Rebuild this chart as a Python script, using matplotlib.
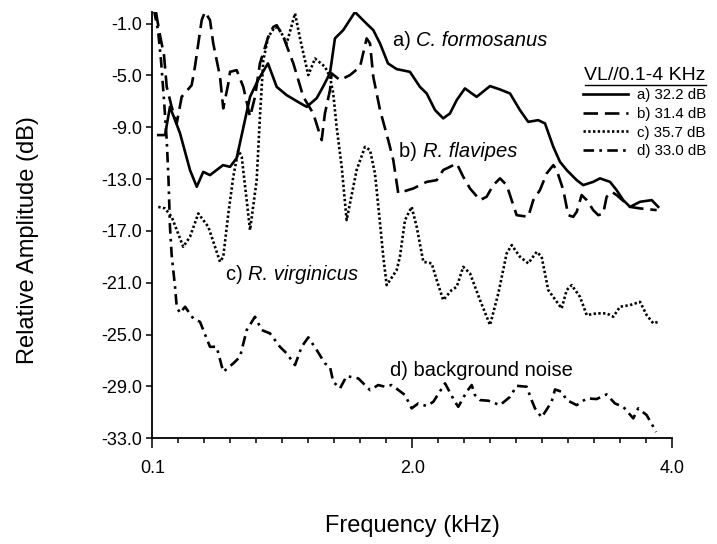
import matplotlib
matplotlib.use('Agg')
import matplotlib.pyplot as plt
from matplotlib.lines import Line2D

plt.rcParams['font.family'] = ['Liberation Sans', 'DejaVu Sans']

# a) C. formosanus (solid)
freq_a = [0.046, 0.098, 0.136, 0.213, 0.290, 0.342, 0.392, 0.444, 0.544, 0.598, 0.649,
          0.752, 0.813, 0.890, 0.957, 1.034, 1.136, 1.188, 1.265, 1.313, 1.367, 1.405,
          1.469, 1.559, 1.652, 1.700, 1.752, 1.813, 1.880, 1.982, 2.059, 2.111, 2.175,
          2.238, 2.290, 2.342, 2.405, 2.495, 2.598, 2.675, 2.752, 2.828, 2.892, 2.969,
          3.021, 3.085, 3.136, 3.188, 3.265, 3.315, 3.392, 3.444, 3.521, 3.572, 3.623,
          3.675, 3.752, 3.842, 3.892]
amp_a = [-9.60, -9.60, -7.42, -9.45, -12.30, -13.59, -12.44, -12.69, -11.92, -12.05, -11.38,
         -6.65, -5.36, -4.07, -5.88, -6.52, -7.13, -7.42, -6.75, -5.88, -4.82, -2.14,
         -1.50, -0.11, -1.04, -1.50, -2.53, -4.07, -4.51, -4.72, -5.88, -6.39, -7.67,
         -8.31, -7.93, -6.90, -6.00, -6.65, -5.82, -6.08, -6.39, -7.67, -8.58, -8.45,
         -8.70, -10.51, -11.66, -12.30, -13.08, -13.46, -13.21, -12.94, -13.21, -13.85, -14.62,
         -15.14, -14.75, -14.62, -15.14]

# b) R. flavipes (dashed)
freq_b = [0.028, 0.059, 0.090, 0.111, 0.149, 0.188, 0.226, 0.303, 0.328, 0.380, 0.405,
          0.444, 0.469, 0.521, 0.546, 0.585, 0.598, 0.649, 0.700, 0.752, 0.790, 0.828,
          0.892, 0.931, 0.957, 1.008, 1.085, 1.162, 1.238, 1.303, 1.328, 1.367, 1.380,
          1.444, 1.521, 1.598, 1.649, 1.675, 1.700, 1.752, 1.815, 1.854, 1.892, 2.008,
          2.111, 2.188, 2.238, 2.290, 2.342, 2.392, 2.444, 2.521, 2.572, 2.623, 2.675,
          2.726, 2.777, 2.803, 2.892, 2.931, 2.982, 3.034, 3.085, 3.111, 3.162, 3.200,
          3.238, 3.265, 3.303, 3.342, 3.392, 3.431, 3.469, 3.495, 3.534, 3.572, 3.675,
          3.752, 3.880]
amp_b = [-0.11, -1.89, -3.43, -5.88, -7.42, -8.70, -6.65, -5.75, -4.33, -0.73, -0.09,
         -0.73, -2.53, -5.10, -7.54, -5.61, -4.72, -4.59, -5.88, -8.19, -6.65, -4.07,
         -2.02, -1.25, -1.12, -2.02, -4.07, -6.65, -7.93, -9.99, -7.93, -6.13, -4.84,
         -5.36, -4.97, -4.33, -2.14, -2.53, -5.10, -7.67, -9.99, -11.53, -14.08, -13.72,
         -13.21, -13.08, -12.30, -12.05, -11.79, -12.82, -13.72, -14.62, -14.36, -13.46, -12.94,
         -13.46, -15.00, -15.78, -15.91, -14.62, -13.85, -12.56, -11.92, -12.30, -13.85, -15.78,
         -15.91, -15.52, -14.23, -14.62, -15.39, -15.78, -15.65, -14.36, -13.98, -14.23, -15.14,
         -15.26, -15.39]

# c) R. virginicus (dotted)
freq_c = [0.046, 0.098, 0.149, 0.238, 0.290, 0.354, 0.431, 0.521, 0.546, 0.585, 0.623,
          0.662, 0.688, 0.726, 0.752, 0.803, 0.828, 0.854, 0.892, 0.944, 0.982, 1.034,
          1.098, 1.136, 1.200, 1.252, 1.328, 1.367, 1.392, 1.418, 1.457, 1.495, 1.572,
          1.636, 1.675, 1.713, 1.752, 1.777, 1.803, 1.880, 1.905, 1.944, 1.995, 2.034,
          2.085, 2.149, 2.188, 2.238, 2.303, 2.342, 2.392, 2.444, 2.521, 2.598, 2.662,
          2.726, 2.765, 2.828, 2.892, 2.957, 2.995, 3.046, 3.149, 3.188, 3.226, 3.290,
          3.342, 3.418, 3.495, 3.546, 3.598, 3.675, 3.752, 3.803, 3.854, 3.892]
amp_c = [-15.14, -15.26, -15.91, -18.22, -17.45, -15.65, -16.68, -19.38, -18.99, -15.65, -12.82,
         -10.76, -11.28, -14.62, -16.93, -13.08, -8.19, -3.82, -2.02, -1.25, -1.50, -2.53,
         -0.21, -2.12, -4.97, -3.69, -4.33, -5.10, -6.39, -8.96, -12.05, -16.16, -12.30,
         -10.51, -10.76, -12.56, -16.42, -18.99, -21.18, -20.02, -18.99, -16.16, -15.14, -16.68,
         -19.38, -19.50, -20.79, -22.33, -21.56, -21.31, -19.77, -20.27, -22.33, -24.26, -21.82,
         -18.73, -18.09, -18.99, -19.50, -18.61, -18.99, -21.56, -22.98, -21.56, -21.18, -22.08,
         -23.49, -23.36, -23.36, -23.62, -22.85, -22.72, -22.47, -23.49, -24.13, -24.01]

# d) background noise (dash-dot)
freq_d = [0.013, 0.044, 0.067, 0.090, 0.111, 0.125, 0.136, 0.149, 0.175, 0.188, 0.213,
          0.252, 0.315, 0.367, 0.444, 0.495, 0.546, 0.623, 0.675, 0.726, 0.790, 0.842,
          0.905, 0.982, 1.034, 1.098, 1.149, 1.200, 1.265, 1.328, 1.367, 1.392, 1.444,
          1.495, 1.585, 1.675, 1.738, 1.790, 1.842, 1.944, 1.995, 2.046, 2.111, 2.162,
          2.252, 2.328, 2.354, 2.418, 2.457, 2.482, 2.521, 2.585, 2.675, 2.752, 2.803,
          2.880, 2.918, 2.944, 2.995, 3.072, 3.098, 3.149, 3.188, 3.265, 3.342, 3.418,
          3.495, 3.559, 3.623, 3.700, 3.738, 3.803, 3.854, 3.875]
amp_d = [0.04, -1.50, -3.82, -6.90, -9.99, -13.08, -16.68, -18.86, -21.31, -22.85, -23.34,
         -22.85, -23.75, -24.01, -25.94, -25.94, -27.87, -27.22, -26.71, -24.65, -23.62, -24.65,
         -24.90, -25.94, -26.45, -27.35, -25.94, -25.21, -26.19, -27.22, -27.48, -28.64, -29.15,
         -28.20, -28.38, -29.28, -28.89, -29.02, -28.89, -29.66, -30.69, -30.31, -30.51, -30.18,
         -28.76, -30.18, -30.57, -29.41, -28.89, -29.66, -30.05, -30.10, -30.44, -29.80, -28.95,
         -29.02, -30.05, -30.69, -31.39, -30.18, -29.23, -29.41, -30.05, -30.44, -29.92, -29.97,
         -29.61, -30.31, -30.57, -31.46, -30.69, -31.21, -32.11, -32.52]

legend_labels = ['a) 32.2 dB', 'b) 31.4 dB', 'c) 35.7 dB', 'd) 33.0 dB']
y_ticks = [-1, -5, -9, -13, -17, -21, -25, -29, -33]
x_major = [0, 2, 4]
x_major_labels = ['0.1', '2.0', '4.0']

fig = plt.figure(figsize=(7.17, 5.44), dpi=100)
ax = fig.add_axes([0.2124, 0.1943, 0.7252, 0.7837])

lw = 1.9
la, = ax.plot(freq_a, amp_a, color='black', lw=lw, ls='-')
lb, = ax.plot(freq_b, amp_b, color='black', lw=lw, dashes=(5.5, 2.6))
lc, = ax.plot(freq_c, amp_c, color='black', lw=lw, dashes=(0.9, 0.9))
ld, = ax.plot(freq_d, amp_d, color='black', lw=lw, dashes=(4, 2, 1, 2))

ax.set_xlim(0, 4)
ax.set_ylim(-33, -0.1)
for s in ['top', 'right']:
    ax.spines[s].set_visible(False)
ax.spines['left'].set_linewidth(1.3)
ax.spines['bottom'].set_linewidth(1.3)

ax.set_yticks(y_ticks)
ax.set_yticklabels(['%.1f' % v for v in y_ticks])
ax.set_xticks(x_major)
ax.set_xticklabels(x_major_labels)
ax.set_xticks([0.2 * i for i in range(21)], minor=True)
ax.tick_params(axis='y', direction='out', length=4.5, width=1.1, labelsize=13, pad=3)
ax.tick_params(axis='x', which='major', direction='out', length=7.5, width=1.1,
               labelsize=13, pad=8)
ax.tick_params(axis='x', which='minor', direction='out', length=3.8, width=1.1)

ax.set_ylabel('Relative Amplitude (dB)', fontsize=17)
ax.yaxis.set_label_coords(-0.218, 0.465)
ax.set_xlabel('Frequency (kHz)', fontsize=17)
ax.xaxis.set_label_coords(0.5, -0.18)

# curve labels
fs = 14.5
ta = ax.text(1.85, -2.27, 'a) ', fontsize=fs, va='center')
ax.annotate('C. formosanus', xy=(1, 0.5), xycoords=ta, va='center', fontsize=fs, style='italic')
tb = ax.text(1.90, -10.9, 'b) ', fontsize=fs, va='center')
ax.annotate('R. flavipes', xy=(1, 0.5), xycoords=tb, va='center', fontsize=fs, style='italic')
tc = ax.text(0.567, -20.33, 'c) ', fontsize=fs, va='center')
ax.annotate('R. virginicus', xy=(1, 0.5), xycoords=tc, va='center', fontsize=fs, style='italic')
ax.text(1.83, -27.74, 'd) background noise', fontsize=fs, va='center')

leg = fig.legend([la, lb, lc, ld], legend_labels, loc='upper right',
                 bbox_to_anchor=(706 / 717, 1 - 67 / 544), frameon=False,
                 fontsize=10.8, title='VL//0.1-4 KHz', title_fontsize=14,
                 handlelength=3.0, handletextpad=0.6, labelspacing=0.3,
                 borderpad=0, borderaxespad=0)
leg._legend_box.align = 'right'

# underline the legend title
fig.canvas.draw()
bb = leg.get_title().get_window_extent().transformed(fig.transFigure.inverted())
fig.add_artist(Line2D([bb.x0, bb.x1], [bb.y0 - 0.002, bb.y0 - 0.002],
                      transform=fig.transFigure, color='black', lw=1.0))

fig.savefig('out.png', dpi=100)
